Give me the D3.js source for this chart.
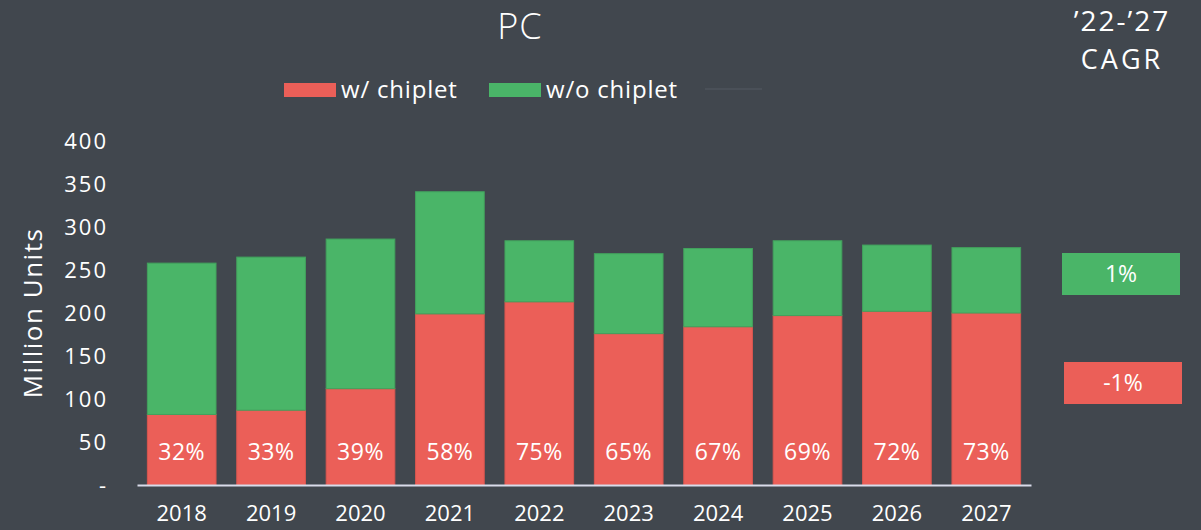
<!DOCTYPE html>
<html>
<head>
<meta charset="utf-8">
<script src="https://cdn.jsdelivr.net/npm/d3@7"></script>
<style>
  html, body { margin: 0; padding: 0; background: #41474e; }
  svg { display: block; }
</style>
</head>
<body>
<div id="chart"></div>
<script>
/* global d3 */

const YEARS = ['2018', '2019', '2020', '2021', '2022', '2023', '2024', '2025', '2026', '2027']
const WITH_CHIPLET = [82, 87, 112, 199, 213, 176, 184, 197, 202, 200] // million units
const WITHOUT_CHIPLET = [176, 178, 174, 142, 71, 93, 91, 87, 77, 76]
const SHARE_LABELS = ['32%', '33%', '39%', '58%', '75%', '65%', '67%', '69%', '72%', '73%']
const Y_TICKS = [0, 50, 100, 150, 200, 250, 300, 350, 400]
const CAGR_LABELS = ['1%', '-1%'] // w/o chiplet, w/ chiplet
const SERIES_NAMES = ['w/ chiplet', 'w/o chiplet']

const STYLE = {
  width: 1201,
  height: 530,
  margin: { top: 141, bottom: 45, left: 137, right: 170 },
  background: '#41474e',
  red: '#eb5f58',
  green: '#4ab568',
  text: '#ffffff',
  axis: '#d9dcea',
  font: '"Open Sans", "Noto Sans", sans-serif'
}

function drawChart (config = STYLE) {
  const { width, height, margin, font } = config

  const svg = d3.select('#chart')
    .append('svg')
    .attr('width', width)
    .attr('height', height)
    .style('background', config.background)
    .style('font-family', font)

  const x = d3.scaleBand() // eixo x
    .domain(YEARS)
    .range([margin.left, 1031])
    .paddingInner(0.232)
    .paddingOuter(0.116)

  const y = d3.scaleLinear() // eixo y
    .domain([0, 400])
    .range([485, 141])

  const rows = YEARS.map((ano, i) => ({
    ano,
    w: WITH_CHIPLET[i],
    wo: WITHOUT_CHIPLET[i],
    label: SHARE_LABELS[i]
  }))

  const stack = d3.stack().keys(['w', 'wo'])(rows)
  const colors = { w: config.red, wo: config.green }
  const strokes = { w: '#d9564f', wo: '#42a15d' }

  svg.append('g')
    .selectAll('g')
    .data(stack)
    .join('g')
    .attr('fill', d => colors[d.key])
    .attr('stroke', d => strokes[d.key])
    .attr('stroke-width', 1)
    .selectAll('rect')
    .data(d => d)
    .join('rect')
    .attr('x', d => x(d.data.ano))
    .attr('width', x.bandwidth())
    .attr('y', d => y(d[1]))
    .attr('height', d => y(d[0]) - y(d[1]))

  // percentagens dentro das barras
  svg.append('g')
    .selectAll('text')
    .data(rows)
    .join('text')
    .attr('x', d => x(d.ano) + x.bandwidth() / 2)
    .attr('y', y(38))
    .attr('dy', '0.35em')
    .attr('text-anchor', 'middle')
    .attr('fill', config.text)
    .style('font-size', '23px')
    .style('letter-spacing', '0.5px')
    .text(d => d.label)

  // eixo x
  const xAxis = g => {
    g.attr('transform', `translate(0,${y(0)})`)
      .call(d3.axisBottom(x).tickSize(0).tickPadding(20).tickSizeOuter(0))
      .call(g => g.select('.domain').attr('stroke', config.axis).attr('stroke-width', 2))
      .call(g => g.selectAll('text').attr('fill', config.text).style('font-size', '22px').style('font-family', font))
  }

  // eixo y
  const yAxis = g => {
    g.attr('transform', 'translate(108,0)')
      .call(d3.axisLeft(y).tickValues(Y_TICKS).tickSize(0).tickPadding(0)
        .tickFormat(d => d === 0 ? '-' : d))
      .call(g => g.select('.domain').remove())
      .call(g => g.selectAll('text').attr('fill', config.text)
        .style('font-size', '22px').style('letter-spacing', '2px').style('font-family', font))
  }

  svg.append('g').call(xAxis)
  svg.append('g').call(yAxis)

  svg.append('text') // legenda eixo y
    .attr('text-anchor', 'middle')
    .attr('transform', `translate(42, ${313}) rotate(-90)`)
    .attr('fill', config.text)
    .style('font-size', '26px')
    .style('letter-spacing', '1.5px')
    .text('Million Units')

  svg.append('text') // título
    .attr('x', 520)
    .attr('y', 39)
    .attr('text-anchor', 'middle')
    .attr('fill', config.text)
    .style('font-size', '36px')
    .style('font-weight', 300)
    .style('letter-spacing', '1px')
    .text('PC')

  // legenda
  const legend = svg.append('g')
  const legendItems = [
    { name: SERIES_NAMES[0], color: config.red, x: 284 },
    { name: SERIES_NAMES[1], color: config.green, x: 489 }
  ]
  legend.selectAll('rect')
    .data(legendItems)
    .join('rect')
    .attr('x', d => d.x)
    .attr('y', 83)
    .attr('width', 52)
    .attr('height', 14)
    .attr('fill', d => d.color)
  legend.selectAll('text')
    .data(legendItems)
    .join('text')
    .attr('x', d => d.x + 57)
    .attr('y', 90)
    .attr('dy', '0.35em')
    .attr('fill', config.text)
    .style('font-size', '24px')
    .style('letter-spacing', '0.8px')
    .text(d => d.name)
  legend.append('line') // série sem nome (quase invisível)
    .attr('x1', 705)
    .attr('x2', 762)
    .attr('y1', 89)
    .attr('y2', 89)
    .attr('stroke', '#4a5058')
    .attr('stroke-width', 2)

  // CAGR
  svg.append('text')
    .attr('x', 1122)
    .attr('y', 31)
    .attr('text-anchor', 'middle')
    .attr('fill', config.text)
    .style('font-size', '28px')
    .style('letter-spacing', '2px')
    .text('\u201922-\u201927')
  svg.append('text')
    .attr('x', 1122)
    .attr('y', 69)
    .attr('text-anchor', 'middle')
    .attr('fill', config.text)
    .style('font-size', '27px')
    .style('letter-spacing', '3px')
    .text('CAGR')

  const cagr = [
    { label: CAGR_LABELS[0], color: config.green, x: 1062, y: 253 },
    { label: CAGR_LABELS[1], color: config.red, x: 1064, y: 362 }
  ]
  const boxes = svg.append('g')
    .selectAll('g')
    .data(cagr)
    .join('g')
    .attr('transform', d => `translate(${d.x},${d.y})`)
  boxes.append('rect')
    .attr('width', 118)
    .attr('height', 42)
    .attr('fill', d => d.color)
  boxes.append('text')
    .attr('x', 59)
    .attr('y', 21)
    .attr('dy', '0.35em')
    .attr('text-anchor', 'middle')
    .attr('fill', config.text)
    .style('font-size', '23px')
    .text(d => d.label)
}

window.addEventListener('DOMContentLoaded', () => {
  drawChart()
})
</script>
</body>
</html>
